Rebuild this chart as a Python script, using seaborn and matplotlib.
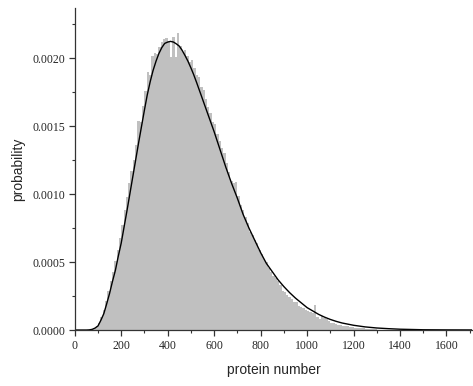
import numpy as np
import pandas as pd
import matplotlib
matplotlib.use("Agg")
import matplotlib.pyplot as plt
import seaborn as sns
from matplotlib.ticker import MultipleLocator, FormatStrFormatter

# Histogram bin centers (width 10) and probabilities
bin_centers = [65 + 10 * i for i in range(0, 124)]
bin_heights = [
    0.000003, 0.000008, 0.000015, 0.000028, 0.000050, 0.000095, 0.000150, 0.000215, 0.000290, 0.000360,
    0.000430, 0.000510, 0.000590, 0.000680, 0.000770, 0.000880, 0.000980, 0.001080, 0.001170, 0.001250,
    0.001360, 0.001540, 0.001530, 0.001650, 0.001760, 0.001900, 0.001880, 0.002020, 0.002040, 0.002030,
    0.002080, 0.002120, 0.002140, 0.002150, 0.002130, 0.002010, 0.002160, 0.002010, 0.002190, 0.002090,
    0.002050, 0.002060, 0.002020, 0.001970, 0.001990, 0.001930, 0.001880, 0.001860, 0.001790, 0.001770,
    0.001700, 0.001640, 0.001600, 0.001530, 0.001520, 0.001440, 0.001390, 0.001340, 0.001300, 0.001230,
    0.001160, 0.001100, 0.001080, 0.001090, 0.000990, 0.000920, 0.000880, 0.000830, 0.000790, 0.000720,
    0.000700, 0.000660, 0.000640, 0.000590, 0.000560, 0.000520, 0.000500, 0.000460, 0.000430, 0.000400,
    0.000380, 0.000360, 0.000330, 0.000290, 0.000280, 0.000260, 0.000245, 0.000230, 0.000210, 0.000205,
    0.000180, 0.000170, 0.000160, 0.000147, 0.000140, 0.000130, 0.000125, 0.000184, 0.000095, 0.000080,
    0.000100, 0.000085, 0.000080, 0.000070, 0.000050, 0.000055, 0.000045, 0.000040, 0.000038, 0.000032,
    0.000030, 0.000026, 0.000024, 0.000020, 0.000018, 0.000016, 0.000015, 0.000013, 0.000012, 0.000010,
    0.000010, 0.000009, 0.000008, 0.000007,
]
bin_edges = [60 + 10 * i for i in range(0, 125)]

# Fitted curve points
curve_x = [0, 50, 62, 75, 87, 100, 112, 125, 137, 150, 162, 175, 187, 200, 225, 250, 275, 300,
           312, 325, 337, 350, 362, 375, 387, 400, 412, 425, 437, 450, 462, 475, 487, 500, 512,
           525, 550, 575, 600, 625, 650, 675, 700, 725, 750, 775, 800, 825, 850, 875,
           900, 925, 950, 975, 1000, 1025, 1050, 1075, 1100, 1125, 1150, 1200, 1250, 1300, 1350,
           1400, 1450, 1500, 1600, 1710]
curve_y = [0.0, 0.0, 0.000001, 0.000005, 0.000014, 0.00003, 0.00007, 0.00012, 0.00019, 0.00027,
           0.000355, 0.00044, 0.00054, 0.00064, 0.00088, 0.00113, 0.00138, 0.00162,
           0.00173, 0.00183, 0.00191, 0.00198, 0.002035, 0.00208, 0.00211, 0.00212, 0.002125,
           0.00212, 0.002107, 0.00209, 0.00206, 0.00202, 0.00198, 0.00193, 0.00188,
           0.00182, 0.00170, 0.00158, 0.00146, 0.00133, 0.00120, 0.00108, 0.00097,
           0.00085, 0.00075, 0.00066, 0.00057, 0.00049, 0.00043, 0.00037, 0.00032, 0.000275,
           0.000235, 0.0002, 0.000165, 0.00014, 0.000115, 0.000095, 0.000078, 0.000064, 0.000052,
           0.000035, 0.000023, 0.000015, 0.00001, 0.000006, 0.000004, 0.000002, 0.000001, 0.0000005]

x_ticks = [0, 200, 400, 600, 800, 1000, 1200, 1400, 1600]
y_ticks = [0.0, 0.0005, 0.0010, 0.0015, 0.0020]

sns.set_style("ticks")
plt.rcParams["font.family"] = ["Liberation Serif", "DejaVu Serif"]

fig = plt.figure(figsize=(4.73, 3.86), dpi=100)
ax = fig.add_axes([0.158, 0.145, 0.84, 0.834])

hist_df = pd.DataFrame({"x": bin_centers, "w": bin_heights})
sns.histplot(data=hist_df, x="x", weights="w", bins=bin_edges, stat="count",
             color="#c0c0c0", alpha=1.0, linewidth=0, edgecolor="none", ax=ax)
curve_df = pd.DataFrame({"x": curve_x, "y": curve_y})
sns.lineplot(data=curve_df, x="x", y="y", color="black", linewidth=1.0, ax=ax)

ax.set_xlim(0, 1710)
ax.set_ylim(0, 0.00237)
ax.set_xticks(x_ticks)
ax.set_yticks(y_ticks)
ax.xaxis.set_minor_locator(MultipleLocator(100))
ax.yaxis.set_minor_locator(MultipleLocator(0.00025))
ax.yaxis.set_major_formatter(FormatStrFormatter("%.4f"))
ax.tick_params(which="major", direction="out", length=4, width=0.9, labelsize=8.5,
               color="#333333", pad=3)
ax.tick_params(which="minor", direction="out", length=2.5, width=0.8, color="#333333")

for s in ["top", "right"]:
    ax.spines[s].set_visible(False)
for s in ["left", "bottom"]:
    ax.spines[s].set_linewidth(0.9)
    ax.spines[s].set_color("#333333")

ax.set_xlabel("protein number", family=["Liberation Sans", "DejaVu Sans"], fontsize=10, labelpad=8)
ax.set_ylabel("probability", family=["Liberation Sans", "DejaVu Sans"], fontsize=10, labelpad=5)

fig.savefig("out.png", dpi=100)
